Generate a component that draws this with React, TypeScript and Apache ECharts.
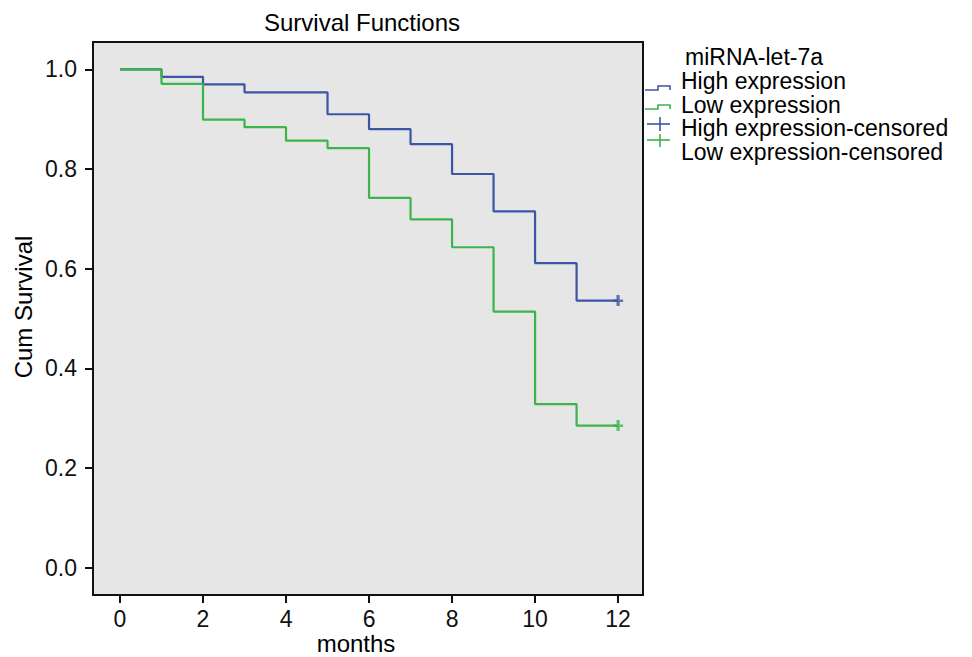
import React, { useEffect, useRef } from "react";
import * as echarts from "echarts";

const months: number[] = [0, 1, 2, 3, 4, 5, 6, 7, 8, 9, 10, 11, 12];
const highTimes: number[] = [0, 1, 2, 3, 5, 6, 7, 8, 9, 10, 11, 12];
const highSurvival: number[] = [1.0, 0.985, 0.97, 0.954, 0.91, 0.88, 0.85, 0.79, 0.715, 0.611, 0.536, 0.536];
const lowTimes: number[] = [0, 1, 2, 3, 4, 5, 6, 7, 8, 9, 10, 11, 12];
const lowSurvival: number[] = [1.0, 0.971, 0.899, 0.884, 0.857, 0.842, 0.742, 0.699, 0.643, 0.514, 0.328, 0.285, 0.285];
const highCensored: [number, number][] = [[12, 0.536]];
const lowCensored: [number, number][] = [[12, 0.285]];
const xTicks: number[] = [0, 2, 4, 6, 8, 10, 12];
const yTicks: number[] = [0, 0.2, 0.4, 0.6, 0.8, 1.0];
const legendTitle = "miRNA-let-7a";
const legendNames: string[] = ["High expression", "Low expression", "High expression-censored", "Low expression-censored"];

const BLUE = "#3d55a5";
const GREEN = "#3bb54a";
const FONT = "'Liberation Sans', Arial, Helvetica, sans-serif";
const PLUS = "path://M3.4,0H6.6V4H10V6.2H6.6V10H3.4V6.2H0V4H3.4Z";

export default function App() {
  const ref = useRef<HTMLDivElement>(null);
  useEffect(() => {
    document.body.style.margin = "0";
    if (!ref.current) return;
    const chart = echarts.init(ref.current, null, { renderer: "svg" });
    const highData = highTimes.map((t, i) => [t, highSurvival[i]]);
    const lowData = lowTimes.map((t, i) => [t, lowSurvival[i]]);
    const txt = (x: number, y: number, text: string, size = 24, extra: any = {}) => ({
      type: "text",
      x,
      y,
      style: {
        text,
        fill: "#000",
        font: `${size}px ${FONT}`,
        lineHeight: size - 2,
        textAlign: "left",
        textVerticalAlign: "middle",
        ...extra,
      },
      silent: true,
    });
    const tickLabel = {
      margin: 14,
      color: "#111",
      fontSize: 23,
      lineHeight: 20,
      fontFamily: FONT,
    };
    chart.setOption({
      animation: false,
      backgroundColor: "#ffffff",
      grid: {
        left: 93,
        top: 42,
        right: 329,
        bottom: 62,
        show: true,
        backgroundColor: "#e6e6e6",
        borderColor: "#111",
        borderWidth: 2,
      },
      xAxis: {
        type: "value",
        min: -0.65,
        max: 12.6,
        splitLine: { show: false },
        axisLine: { show: false, onZero: false },
        axisTick: {
          show: true,
          inside: false,
          length: 8,
          lineStyle: { color: "#111", width: 2 },
          customValues: xTicks,
        },
        axisLabel: {
          ...tickLabel,
          customValues: xTicks,
          formatter: (v: number) => String(Math.round(v)),
        },
      },
      yAxis: {
        type: "value",
        min: -0.055,
        max: 1.055,
        splitLine: { show: false },
        axisLine: { show: false, onZero: false },
        axisTick: {
          show: true,
          inside: false,
          length: 8,
          lineStyle: { color: "#111", width: 2 },
          customValues: yTicks,
        },
        axisLabel: {
          ...tickLabel,
          margin: 16,
          customValues: yTicks,
          formatter: (v: number) => v.toFixed(1),
        },
      },
      series: [
        {
          name: legendNames[0],
          type: "line",
          step: "end",
          data: highData,
          showSymbol: false,
          lineStyle: { color: BLUE, width: 2.2 },
          z: 2,
        },
        {
          name: legendNames[1],
          type: "line",
          step: "end",
          data: lowData,
          showSymbol: false,
          lineStyle: { color: GREEN, width: 2.2 },
          z: 3,
        },
        {
          name: legendNames[2],
          type: "scatter",
          data: highCensored,
          symbol: PLUS,
          symbolSize: [10, 11],
          itemStyle: { color: BLUE },
          z: 4,
        },
        {
          name: legendNames[3],
          type: "scatter",
          data: lowCensored,
          symbol: PLUS,
          symbolSize: [10, 11],
          itemStyle: { color: GREEN },
          z: 4,
        },
      ],
      graphic: [
        txt(362, 22, "Survival Functions", 24, { textAlign: "center" }),
        txt(356, 643, "months", 24, { textAlign: "center" }),
        {
          type: "text",
          x: 23,
          y: 307,
          rotation: Math.PI / 2,
          style: {
            text: "Cum Survival",
            fill: "#000",
            font: `24px ${FONT}`,
            lineHeight: 22,
            textAlign: "center",
            textVerticalAlign: "middle",
          },
          silent: true,
        },
        txt(685, 57, legendTitle, 23),
        txt(681, 81, legendNames[0], 23, { lineHeight: 21 }),
        txt(681, 104.5, legendNames[1], 23, { lineHeight: 21 }),
        txt(681, 128, legendNames[2], 23, { lineHeight: 21 }),
        txt(681, 151.5, legendNames[3], 23, { lineHeight: 21 }),
        {
          type: "polyline",
          shape: { points: [[645, 90], [658, 90], [658, 86], [670, 86], [670, 90]] },
          style: { stroke: BLUE, lineWidth: 1.6, fill: "none" },
        },
        {
          type: "polyline",
          shape: { points: [[645, 109], [658, 109], [658, 105], [670, 105], [670, 109]] },
          style: { stroke: GREEN, lineWidth: 1.6, fill: "none" },
        },
        { type: "line", shape: { x1: 647, y1: 124, x2: 670, y2: 124 }, style: { stroke: BLUE, lineWidth: 1.6 } },
        { type: "line", shape: { x1: 660, y1: 117, x2: 660, y2: 131 }, style: { stroke: BLUE, lineWidth: 1.6 } },
        { type: "line", shape: { x1: 647, y1: 140, x2: 670, y2: 140 }, style: { stroke: GREEN, lineWidth: 1.6 } },
        { type: "line", shape: { x1: 660, y1: 134, x2: 660, y2: 147 }, style: { stroke: GREEN, lineWidth: 1.6 } },
      ],
    });
    return () => chart.dispose();
  }, []);
  return <div ref={ref} style={{ width: 972, height: 657 }} data-months={months.length} />;
}
